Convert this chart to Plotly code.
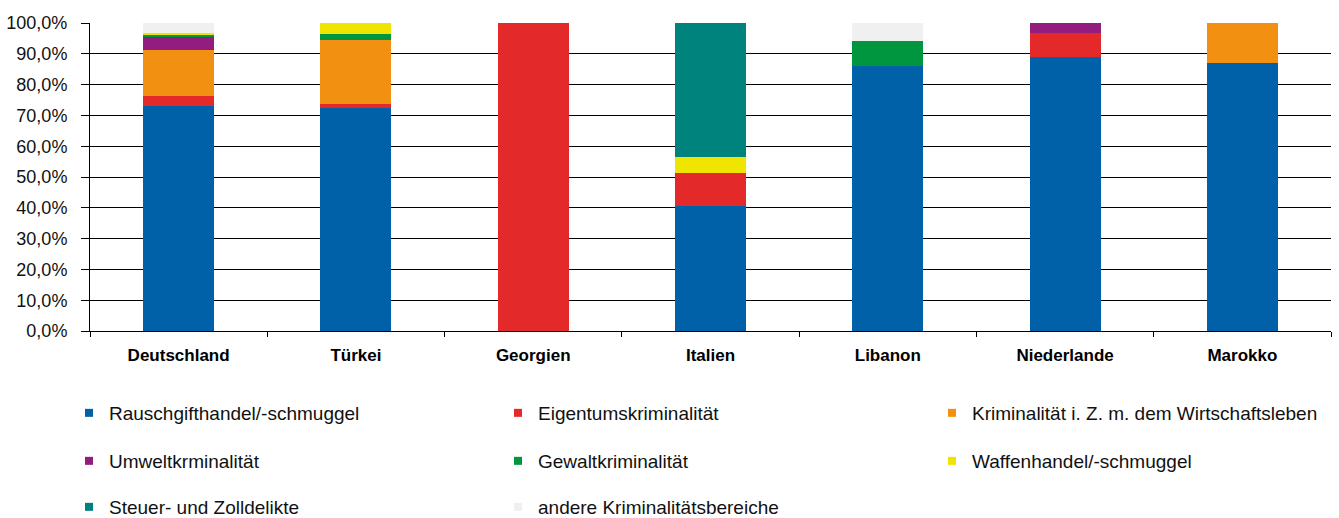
import plotly.graph_objects as go

# Countries on the x axis
countries = ["Deutschland", "Türkei", "Georgien", "Italien", "Libanon", "Niederlande", "Marokko"]

# Crime areas (stack order bottom -> top)
areas = [
    "Rauschgifthandel/-schmuggel",
    "Eigentumskriminalität",
    "Kriminalität i. Z. m. dem Wirtschaftsleben",
    "Umweltkrminalität",
    "Gewaltkriminalität",
    "Waffenhandel/-schmuggel",
    "Steuer- und Zolldelikte",
    "andere Kriminalitätsbereiche",
]

colors = ["#0060A8", "#E4292A", "#F29111", "#931C7F", "#009640", "#F0E500", "#00827D", "#F0F0F0"]

# Share (%) per crime area, one value per country
rauschgift    = [73.2, 72.5,   0.0, 40.5, 85.9, 89.1, 86.9]
eigentum      = [ 3.2,  1.3, 100.0, 10.9,  0.0,  7.6,  0.0]
wirtschaft    = [14.9, 20.6,   0.0,  0.0,  0.0,  0.0, 13.1]
umwelt        = [ 4.2,  0.0,   0.0,  0.0,  0.0,  3.3,  0.0]
gewalt        = [ 0.5,  2.1,   0.0,  0.0,  8.4,  0.0,  0.0]
waffen        = [ 0.8,  3.5,   0.0,  5.2,  0.0,  0.0,  0.0]
steuer_zoll   = [ 0.0,  0.0,   0.0, 43.4,  0.0,  0.0,  0.0]
andere        = [ 3.2,  0.0,   0.0,  0.0,  5.7,  0.0,  0.0]

series = [rauschgift, eigentum, wirtschaft, umwelt, gewalt, waffen, steuer_zoll, andere]

W, H = 1339, 518
FONT = "Liberation Sans, Arial, sans-serif"

# Legend grid: three columns, three rows (pixel positions of the key squares)
col_x = [89, 518, 952]
row_y = [413, 461, 507]

fig = go.Figure()

for name, vals, col in zip(areas, series, colors):
    fig.add_trace(go.Bar(
        x=countries, y=vals, name=name, marker=dict(color=col, line=dict(width=0)),
        width=0.4, showlegend=False, legendgroup=name,
    ))

legend_layout = {}
for i, (name, col) in enumerate(zip(areas, colors)):
    key = "legend" if i == 0 else f"legend{i + 1}"
    # small square key, one legend box per entry so the grid is exact
    fig.add_trace(go.Scatter(
        x=[None], y=[None], mode="markers", name=name, legendgroup=name,
        marker=dict(symbol="square", size=8, color=col), legend=key,
    ))
    legend_layout[key] = dict(
        orientation="h", xref="container", yref="container",
        x=(col_x[i % 3] - 20) / W, y=1 - row_y[i // 3] / H,
        xanchor="left", yanchor="middle",
        font=dict(family=FONT, size=19, color="#111"),
        bgcolor="rgba(0,0,0,0)", borderwidth=0,
    )

fig.update_layout(
    width=W, height=H,
    barmode="stack",
    separators=",.",
    plot_bgcolor="white", paper_bgcolor="white",
    margin=dict(l=90, r=8, t=23, b=187, autoexpand=False),
    font=dict(family=FONT, size=17, color="#000"),
    xaxis=dict(
        showline=True, linecolor="#000", linewidth=1,
        ticks="outside", ticklen=5, tickcolor="#000", tickson="boundaries",
        tickfont=dict(family=FONT, size=17, color="#000", weight="bold"),
        ticklabelstandoff=9, automargin=False,
        showgrid=False,
    ),
    yaxis=dict(
        range=[0, 100], dtick=10, tickformat=".1f", ticksuffix="%",
        showline=True, linecolor="#000", linewidth=1,
        ticks="outside", ticklen=8, tickcolor="#000",
        tickfont=dict(family=FONT, size=18, color="#111"),
        ticklabelstandoff=10, automargin=False,
        showgrid=True, gridcolor="#000", gridwidth=1,
        zeroline=False,
    ),
    **legend_layout,
)

fig.write_html("out.html")
